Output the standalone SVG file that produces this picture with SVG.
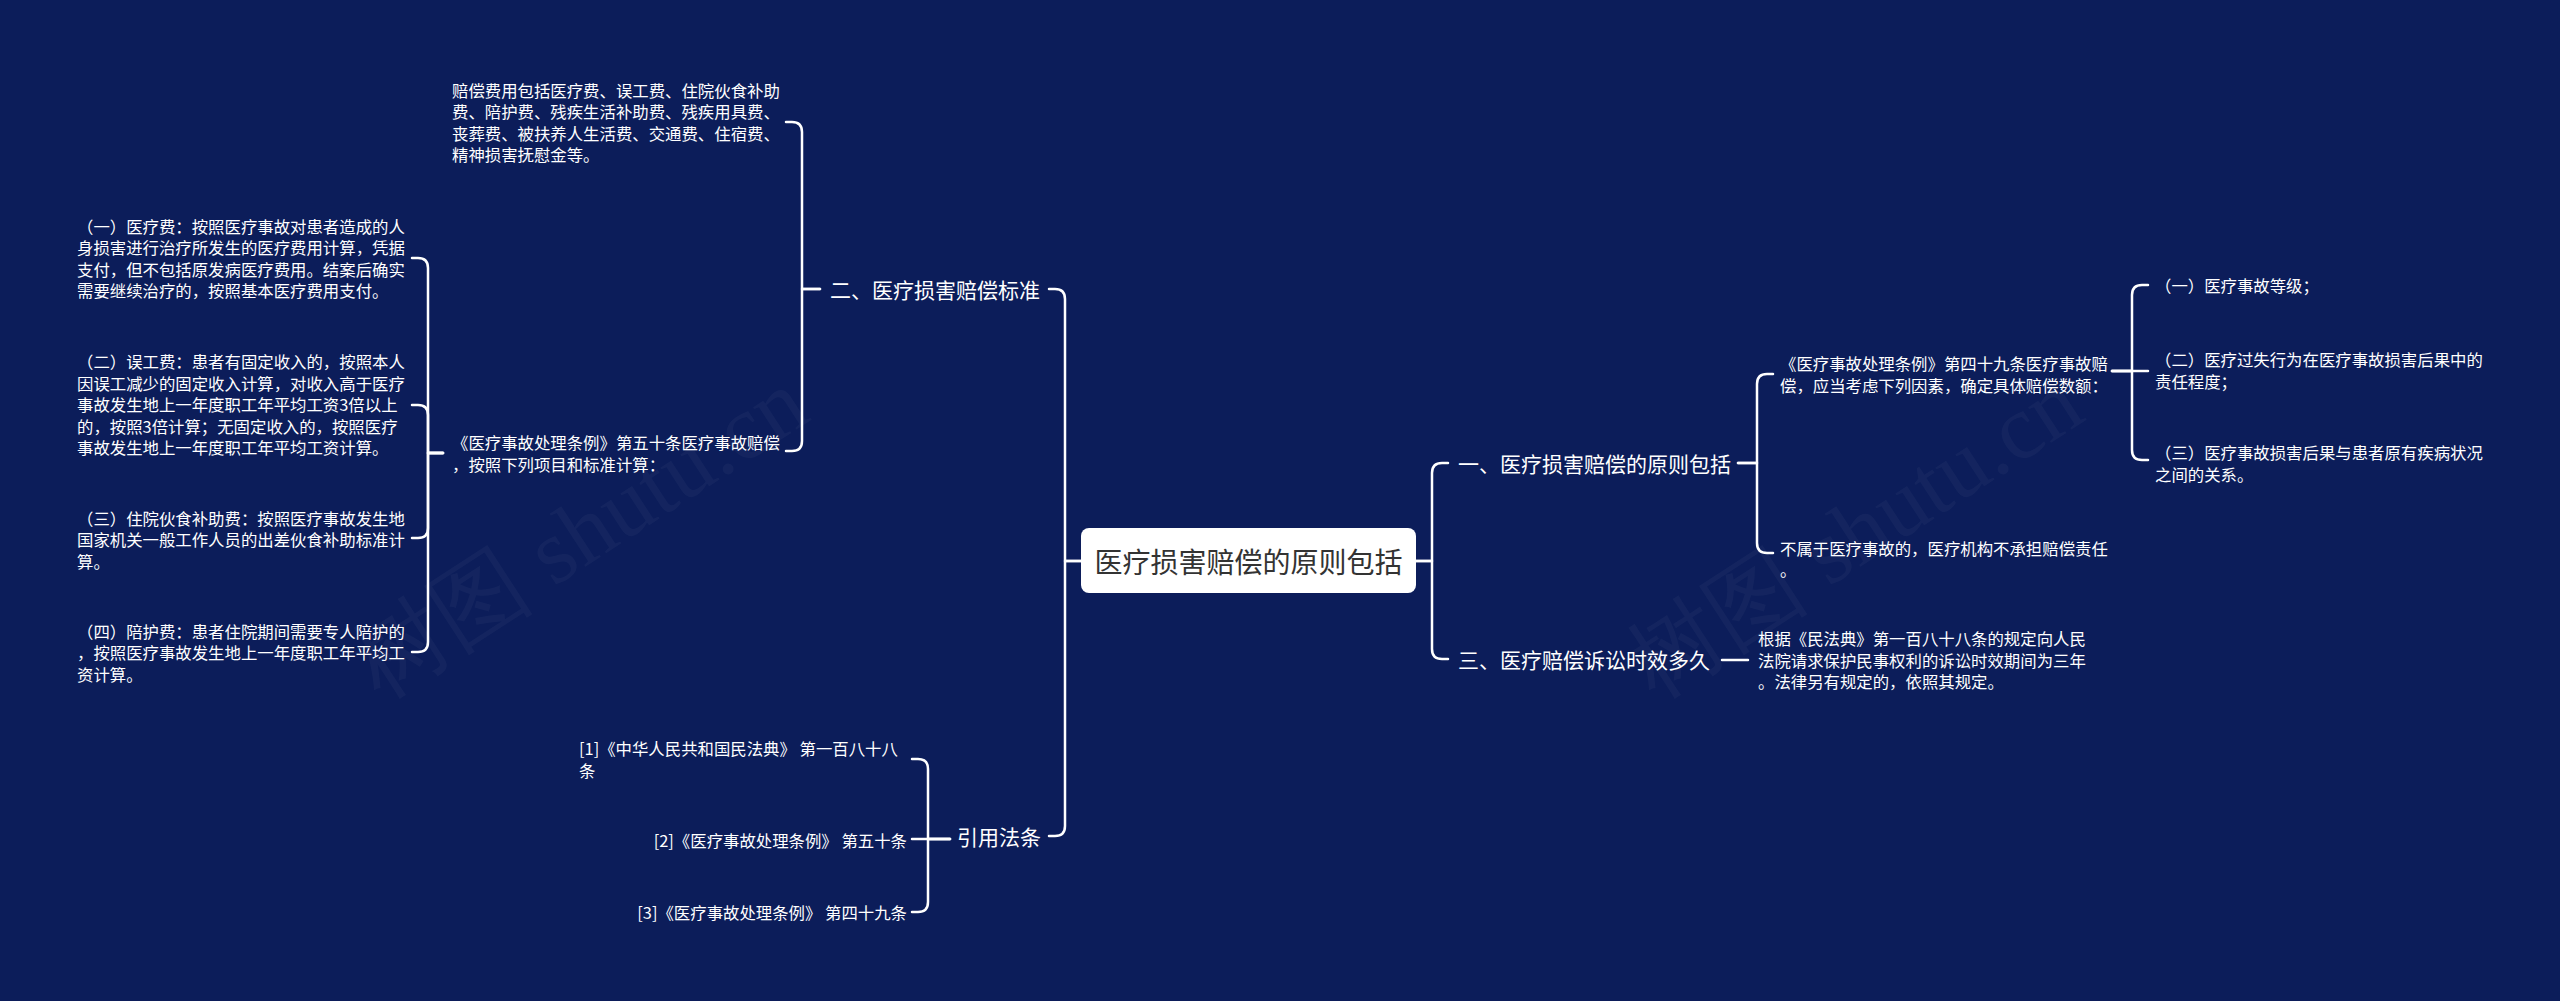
<svg xmlns="http://www.w3.org/2000/svg" width="2560" height="1001" viewBox="0 0 2560 1001">
<style>
.bg{fill:#0c1d5a}
.t{font-family:"Microsoft YaHei","Noto Sans CJK SC","Noto Sans",sans-serif;fill:#ffffff;dominant-baseline:central}
.s{font-size:16.4px}
.m{font-size:21px}
.c{font-size:28px;fill:#333333}
.e{fill:none;stroke:#ffffff;stroke-width:2.5;stroke-linecap:round;stroke-linejoin:round}
.wm{font-family:"Liberation Serif","DejaVu Serif",serif;font-size:92px;fill:#ffffff;fill-opacity:0.035}
</style>
<rect class="bg" x="0" y="0" width="2560" height="1001"/>
<g id="watermark">
<text class="wm" transform="translate(380,700) rotate(-33)">树图 shutu.cn</text>
<text class="wm" transform="translate(1655,700) rotate(-33)">树图 shutu.cn</text>
</g>
<g id="connectors">
<path class="e" d="M1416,561 H1432 V473 Q1432,463 1442,463 H1448"/>
<path class="e" d="M1416,561 H1432 V649 Q1432,659 1442,659 H1448"/>
<path class="e" d="M1738,463 H1757 V384 Q1757,374 1767,374 H1773"/>
<path class="e" d="M1738,463 H1757 V543 Q1757,553 1767,553 H1773"/>
<path class="e" d="M2112,371 H2132 V295 Q2132,285 2142,285 H2148"/>
<path class="e" d="M2112,371 H2148"/>
<path class="e" d="M2112,371 H2132 V450 Q2132,460 2142,460 H2148"/>
<path class="e" d="M1722,660 H1748"/>
<path class="e" d="M1081,561 H1065 V299 Q1065,289 1055,289 H1049"/>
<path class="e" d="M1081,561 H1065 V826 Q1065,836 1055,836 H1049"/>
<path class="e" d="M820,289 H802 V132 Q802,122 792,122 H786"/>
<path class="e" d="M820,289 H802 V441 Q802,451 792,451 H786"/>
<path class="e" d="M443,453 H428 V268 Q428,258 418,258 H412"/>
<path class="e" d="M443,453 H428 V415 Q428,405 418,405 H412"/>
<path class="e" d="M443,453 H428 V528 Q428,538 418,538 H412"/>
<path class="e" d="M443,453 H428 V642 Q428,652 418,652 H412"/>
<path class="e" d="M950,839 H928 V769 Q928,759 918,759 H912"/>
<path class="e" d="M950,839 H912"/>
<path class="e" d="M950,839 H928 V902 Q928,912 918,912 H912"/>
</g>
<g id="root">
<rect x="1081" y="528" width="335" height="65" rx="8" fill="#ffffff"/>
<text class="t c" x="1248.5" y="561" text-anchor="middle">医疗损害赔偿的原则包括</text>
</g>
<g id="n1">
<text class="t m" x="1458" y="463">一、医疗损害赔偿的原则包括</text>
</g>
<g id="n1-1">
<text class="t s" x="1780"><tspan x="1780" y="363.25">《医疗事故处理条例》第四十九条医疗事故赔</tspan><tspan x="1780" y="384.75">偿，应当考虑下列因素，确定具体赔偿数额：</tspan></text>
</g>
<g id="n1-1-1">
<text class="t s" x="2155" y="285">（一）医疗事故等级；</text>
</g>
<g id="n1-1-2">
<text class="t s"><tspan x="2155" y="359.25">（二）医疗过失行为在医疗事故损害后果中的</tspan><tspan x="2155" y="380.75">责任程度；</tspan></text>
</g>
<g id="n1-1-3">
<text class="t s"><tspan x="2155" y="452.25">（三）医疗事故损害后果与患者原有疾病状况</tspan><tspan x="2155" y="473.75">之间的关系。</tspan></text>
</g>
<g id="n1-2">
<text class="t s"><tspan x="1780" y="547.75">不属于医疗事故的，医疗机构不承担赔偿责任</tspan><tspan x="1780" y="569.25">。</tspan></text>
</g>
<g id="n3">
<text class="t m" x="1458" y="659">三、医疗赔偿诉讼时效多久</text>
</g>
<g id="n3-1">
<text class="t s"><tspan x="1758" y="638">根据《民法典》第一百八十八条的规定向人民</tspan><tspan x="1758" y="659.5">法院请求保护民事权利的诉讼时效期间为三年</tspan><tspan x="1758" y="681">。法律另有规定的，依照其规定。</tspan></text>
</g>
<g id="n2">
<text class="t m" x="1040" y="289" text-anchor="end">二、医疗损害赔偿标准</text>
</g>
<g id="n2-1">
<text class="t s"><tspan x="452" y="89.75">赔偿费用包括医疗费、误工费、住院伙食补助</tspan><tspan x="452" y="111.25">费、陪护费、残疾生活补助费、残疾用具费、</tspan><tspan x="452" y="132.75">丧葬费、被扶养人生活费、交通费、住宿费、</tspan><tspan x="452" y="154.25">精神损害抚慰金等。</tspan></text>
</g>
<g id="n2-2">
<text class="t s"><tspan x="452" y="442.25">《医疗事故处理条例》第五十条医疗事故赔偿</tspan><tspan x="452" y="463.75">，按照下列项目和标准计算：</tspan></text>
</g>
<g id="n2-2-1">
<text class="t s"><tspan x="77" y="225.75">（一）医疗费：按照医疗事故对患者造成的人</tspan><tspan x="77" y="247.25">身损害进行治疗所发生的医疗费用计算，凭据</tspan><tspan x="77" y="268.75">支付，但不包括原发病医疗费用。结案后确实</tspan><tspan x="77" y="290.25">需要继续治疗的，按照基本医疗费用支付。</tspan></text>
</g>
<g id="n2-2-2">
<text class="t s"><tspan x="77" y="361">（二）误工费：患者有固定收入的，按照本人</tspan><tspan x="77" y="382.5">因误工减少的固定收入计算，对收入高于医疗</tspan><tspan x="77" y="404">事故发生地上一年度职工年平均工资3倍以上</tspan><tspan x="77" y="425.5">的，按照3倍计算；无固定收入的，按照医疗</tspan><tspan x="77" y="447">事故发生地上一年度职工年平均工资计算。</tspan></text>
</g>
<g id="n2-2-3">
<text class="t s"><tspan x="77" y="517.5">（三）住院伙食补助费：按照医疗事故发生地</tspan><tspan x="77" y="539">国家机关一般工作人员的出差伙食补助标准计</tspan><tspan x="77" y="560.5">算。</tspan></text>
</g>
<g id="n2-2-4">
<text class="t s"><tspan x="77" y="630.5">（四）陪护费：患者住院期间需要专人陪护的</tspan><tspan x="77" y="652">，按照医疗事故发生地上一年度职工年平均工</tspan><tspan x="77" y="673.5">资计算。</tspan></text>
</g>
<g id="n4">
<text class="t m" x="957" y="836">引用法条</text>
</g>
<g id="n4-1">
<text class="t s"><tspan x="579" y="748.25">[1]《中华人民共和国民法典》 第一百八十八</tspan><tspan x="579" y="769.75">条</tspan></text>
</g>
<g id="n4-2">
<text class="t s" x="907" y="840" text-anchor="end">[2]《医疗事故处理条例》 第五十条</text>
</g>
<g id="n4-3">
<text class="t s" x="907" y="912" text-anchor="end">[3]《医疗事故处理条例》 第四十九条</text>
</g>
</svg>
